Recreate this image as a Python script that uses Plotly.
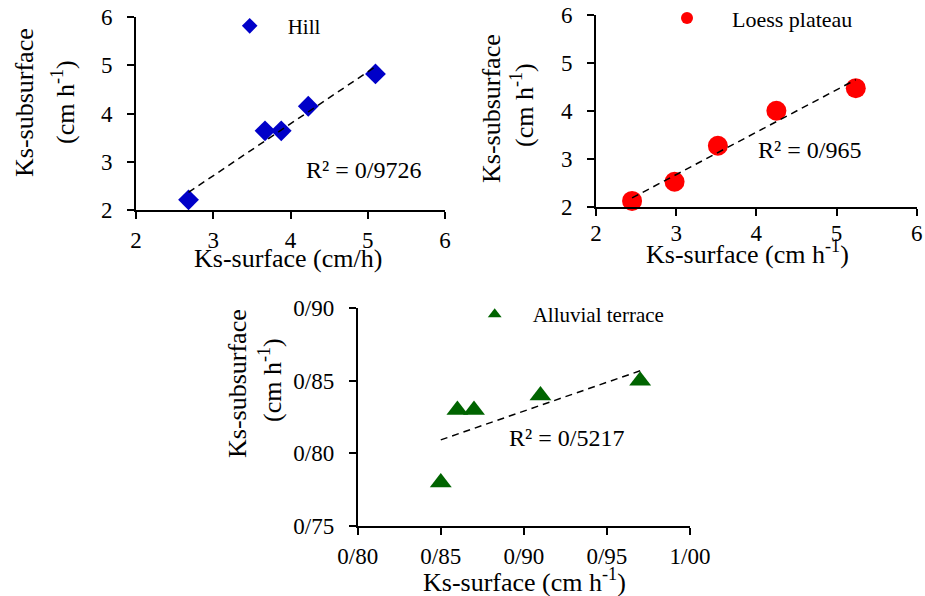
import numpy as np
import plotly.graph_objects as go

# ---------------- data ----------------
hill_x = [2.68, 3.67, 3.88, 4.23, 5.10]
hill_y = [2.21, 3.64, 3.64, 4.15, 4.82]
loess_x = [2.45, 2.98, 3.52, 4.25, 5.24]
loess_y = [2.12, 2.52, 3.27, 4.00, 4.47]
alluvial_x = [0.85, 0.86, 0.87, 0.91, 0.97]
alluvial_y = [0.78, 0.83, 0.83, 0.84, 0.85]

tick_int_vals = [2, 3, 4, 5, 6]
tick_int_text = ["2", "3", "4", "5", "6"]
all_x_vals = [0.80, 0.85, 0.90, 0.95, 1.00]
all_x_text = ["0/80", "0/85", "0/90", "0/95", "1/00"]
all_y_vals = [0.75, 0.80, 0.85, 0.90]
all_y_text = ["0/75", "0/80", "0/85", "0/90"]

r2_text = ["R² = 0/9726", "R² = 0/965", "R² = 0/5217"]
series_names = ["Hill", "Loess plateau", "Alluvial terrace"]

# ---------------- layout helpers ----------------
W, H = 925, 596
FONT = "Liberation Serif"


def px(x):
    return x / W


def py(y):
    return 1 - y / H


def trend(x, y):
    k, b = np.polyfit(x, y, 1)
    xs = np.array([min(x), max(x)])
    return xs, k * xs + b


fig = go.Figure()

specs = [
    (hill_x, hill_y, "#0000C8", "diamond", 16, "legend", "x", "y"),
    (loess_x, loess_y, "#FF0000", "circle", 20, "legend2", "x2", "y2"),
    (alluvial_x, alluvial_y, "#006400", "triangle-up", 19, "legend3", "x3", "y3"),
]
for i, (xv, yv, col, sym, sz, leg, xa, ya) in enumerate(specs):
    fig.add_trace(go.Scatter(
        x=xv, y=yv, mode="markers", name=series_names[i],
        marker=dict(color=col, symbol=sym, size=sz, line=dict(width=0)),
        legend=leg, xaxis=xa, yaxis=ya, cliponaxis=False))
    tx, ty = trend(xv, yv)
    fig.add_trace(go.Scatter(
        x=tx, y=ty, mode="lines", showlegend=False,
        line=dict(color="black", width=1.5, dash="7px,5px"),
        xaxis=xa, yaxis=ya))

fig.update_layout(
    width=W, height=H,
    margin=dict(l=0, r=0, t=0, b=0, pad=0, autoexpand=False),
    paper_bgcolor="white", plot_bgcolor="white",
    font=dict(family=FONT, color="black", size=23),
    xaxis=dict(domain=[px(136), px(445)], range=[2, 6],
               tickvals=tick_int_vals, ticktext=tick_int_text, anchor="y",
               ticklabelstandoff=1),
    yaxis=dict(domain=[py(210), py(17)], range=[2, 6],
               tickvals=tick_int_vals, ticktext=tick_int_text, anchor="x"),
    xaxis2=dict(domain=[px(596), px(916.7)], range=[2, 6],
                tickvals=tick_int_vals, ticktext=tick_int_text, anchor="y2",
                ticklabelstandoff=-2),
    yaxis2=dict(domain=[py(206.7), py(14.7)], range=[2, 6],
                tickvals=tick_int_vals, ticktext=tick_int_text, anchor="x2"),
    xaxis3=dict(domain=[px(357.7), px(690)], range=[0.80, 1.00],
                tickvals=all_x_vals, ticktext=all_x_text, anchor="y3",
                ticklabelstandoff=1),
    yaxis3=dict(domain=[py(526), py(308.3)], range=[0.75, 0.90],
                tickvals=all_y_vals, ticktext=all_y_text, anchor="x3"),
    showlegend=True,
)

axis_common = dict(
    showline=True, linecolor="black", linewidth=1.8, ticks="outside",
    ticklen=7, tickwidth=1.5, tickcolor="black", showgrid=False,
    zeroline=False, fixedrange=True, automargin=False,
    tickfont=dict(family=FONT, size=23, color="black"),
)
fig.update_xaxes(**axis_common)
fig.update_yaxes(**axis_common)
fig.update_yaxes(ticklabelstandoff=10)

leg_common = dict(bgcolor="rgba(0,0,0,0)", font=dict(family=FONT, size=21, color="black"),
                  itemsizing="constant", xanchor="left", yanchor="top",
                  borderwidth=0, tracegroupgap=0, itemwidth=66)
fig.update_layout(
    legend=dict(leg_common, x=px(211.7), y=py(5.7)),
    legend2=dict(leg_common, x=px(642), y=py(-2.7), itemwidth=80,
                 font=dict(family=FONT, size=22, color="black")),
    legend3=dict(leg_common, x=px(456.7), y=py(294)),
)

ann = []
# R² labels
ann.append(dict(x=4.17, y=2.83, xref="x", yref="y", text=r2_text[0]))
ann.append(dict(x=3.99, y=3.18, xref="x2", yref="y2", text=r2_text[1]))
ann.append(dict(x=0.8896, y=0.8107, xref="x3", yref="y3", text=r2_text[2]))
for a in ann:
    a.update(showarrow=False, xanchor="left", yanchor="middle",
             font=dict(family=FONT, size=24, color="black"))

title_font = dict(family=FONT, size=26, color="black")


def title(x, y, text, angle=0):
    return dict(x=px(x), y=py(y), xref="paper", yref="paper", text=text,
                showarrow=False, xanchor="center", yanchor="middle",
                textangle=angle, font=title_font)


ann += [
    title(288, 258, "Ks-surface (cm/h)"),
    title(25, 103, "Ks-subsurface", -90),
    title(63, 102, "(cm h<sup>-1</sup>)", -90),
    title(747.5, 253, "Ks-surface (cm h<sup>-1</sup>)"),
    title(492, 109, "Ks-subsurface", -90),
    title(522, 105, "(cm h<sup>-1</sup>)", -90),
    title(524.7, 580, "Ks-surface (cm h<sup>-1</sup>)"),
    title(237, 384, "Ks-subsurface", -90),
    title(270, 380, "(cm h<sup>-1</sup>)", -90),
]
fig.update_layout(annotations=ann)

fig.write_html("out.html")
